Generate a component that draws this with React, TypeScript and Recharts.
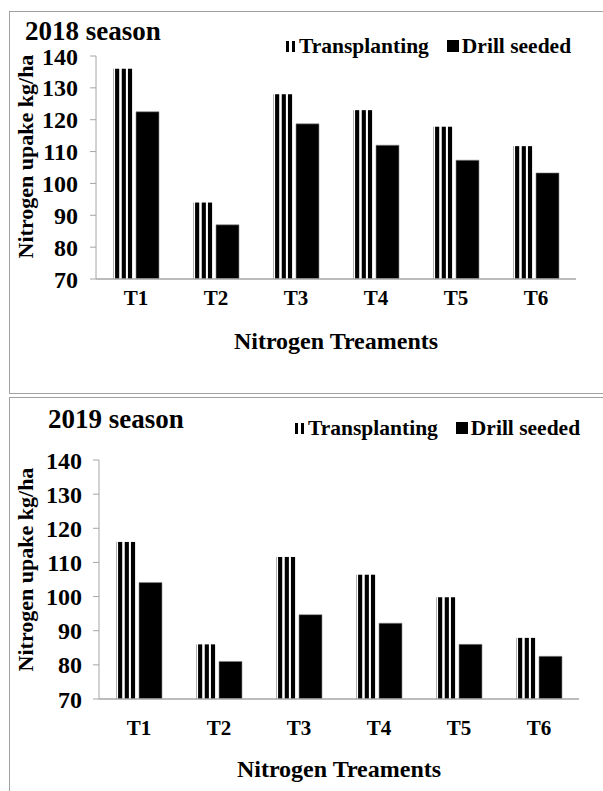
import React from "react"
import { Bar, BarChart, XAxis, YAxis, Label } from "recharts"

const treatments = ["T1", "T2", "T3", "T4", "T5", "T6"]
const yTicks = [70, 80, 90, 100, 110, 120, 130, 140]

const transplanting2018 = [136, 94, 128, 123, 117.8, 111.7]
const drillSeeded2018 = [122.5, 87, 118.7, 112, 107.3, 103.3]

const transplanting2019 = [116, 86, 111.6, 106.4, 99.8, 87.9]
const drillSeeded2019 = [104.1, 81, 94.7, 92.2, 86, 82.5]

const FONT = "'Liberation Serif', 'Times New Roman', serif"
const AXIS_GREY = "#a6a6a6"

const buildRows = (a: number[], b: number[]) =>
  treatments.map((t, i) => ({ name: t, transplanting: a[i], drill: b[i] }))

// vertical-stripe fill used by Excel's "wide vertical" pattern
const StripedBar = (props: any) => {
  const { x, y, width, height } = props
  if (!height || height <= 0) return null
  const starts = [0.09, 0.38, 0.65]
  return (
    <g>
      <line x1={x + 0.5} x2={x + 0.5} y1={y} y2={y + height} stroke="#9a9a9a" strokeWidth={0.8} />
      {starts.map((s, i) => (
        <rect key={i} x={x + s * width} y={y} width={width * 0.18} height={height} fill="#000" />
      ))}
    </g>
  )
}

const LegendBox = ({ left, top }: { left: number; top: number }) => (
  <div
    style={{
      position: "absolute",
      left,
      top,
      display: "flex",
      alignItems: "center",
      fontFamily: FONT,
      fontWeight: "bold",
      fontSize: 21.5,
      lineHeight: "24px",
      whiteSpace: "nowrap",
    }}
  >
    <span style={{ display: "inline-block", width: 3, height: 11, background: "#000", marginRight: 3 }} />
    <span style={{ display: "inline-block", width: 3, height: 11, background: "#000", marginRight: 4 }} />
    <span>Transplanting</span>
    <span style={{ display: "inline-block", width: 12, height: 12, background: "#000", marginLeft: 18, marginRight: 3 }} />
    <span>Drill seeded</span>
  </div>
)

type PanelProps = {
  top: number
  height: number
  title: string
  titleLeft: number
  titleTop: number
  legendLeft: number
  legendTop: number
  transplanting: number[]
  drill: number[]
  margin: { top: number; right: number; left: number; bottom: number }
  yWidth: number
  yTickMargin: number
  xHeight: number
  xTickMargin: number
  xTitleOffset: number
  yLabelShift: number
}

function Panel(p: PanelProps) {
  const data = buildRows(p.transplanting, p.drill)
  return (
    <div style={{ position: "absolute", left: 0, top: p.top, width: 603, height: p.height }}>
      <BarChart
        width={603}
        height={p.height}
        data={data}
        margin={p.margin}
        barGap={0}
        style={{ fontFamily: FONT }}
      >
        <XAxis
          dataKey="name"
          height={p.xHeight}
          tickLine={false}
          tickSize={0}
          tickMargin={p.xTickMargin}
          axisLine={{ stroke: AXIS_GREY, strokeWidth: 1.5 }}
          tick={{ fill: "#000", fontSize: 21, fontWeight: "bold", fontFamily: FONT }}
        >
          <Label
            value="Nitrogen Treaments"
            position="insideBottom"
            offset={p.xTitleOffset}
            style={{ fill: "#000", fontSize: 24, fontWeight: "bold", fontFamily: FONT }}
          />
        </XAxis>
        <YAxis
          width={p.yWidth}
          domain={[70, 140]}
          ticks={yTicks}
          interval={0}
          allowDataOverflow
          tickSize={6}
          tickMargin={p.yTickMargin}
          axisLine={{ stroke: AXIS_GREY }}
          tickLine={{ stroke: AXIS_GREY }}
          tick={{ fill: "#000", fontSize: 24, fontWeight: "bold", fontFamily: FONT }}
        >
          <Label
            content={({ viewBox }: any) => {
              const cx = viewBox.x + 25
              const cy = viewBox.y + viewBox.height / 2 + p.yLabelShift
              return (
                <text
                  x={cx}
                  y={cy}
                  transform={`rotate(-90, ${cx}, ${cy})`}
                  textAnchor="middle"
                  dominantBaseline="central"
                  fill="#000"
                  style={{ fontSize: 22, fontWeight: "bold", fontFamily: FONT }}
                >
                  Nitrogen upake kg/ha
                </text>
              )
            }}
          />
        </YAxis>
        <Bar
          dataKey="transplanting"
          name="Transplanting"
          barSize={23}
          shape={<StripedBar />}
          isAnimationActive={false}
        />
        <Bar
          dataKey="drill"
          name="Drill seeded"
          barSize={23}
          fill="#000"
          stroke="#8c8c8c"
          strokeWidth={0.6}
          isAnimationActive={false}
        />
      </BarChart>
      <div
        style={{
          position: "absolute",
          left: p.titleLeft,
          top: p.titleTop,
          fontFamily: FONT,
          fontWeight: "bold",
          fontSize: 27,
          lineHeight: "24px",
          whiteSpace: "nowrap",
        }}
      >
        {p.title}
      </div>
      <LegendBox left={p.legendLeft} top={p.legendTop} />
    </div>
  )
}

export default function App() {
  return (
    <div style={{ position: "absolute", left: 0, top: 0, width: 603, height: 791, background: "#fff", overflow: "hidden" }}>
      <div style={{ position: "absolute", left: 9, top: 11, width: 620, height: 381, border: "1px solid #a0a0a0" }} />
      <div style={{ position: "absolute", left: 9, top: 397, width: 620, height: 420, border: "1px solid #a0a0a0" }} />
      <Panel
        top={0}
        height={393}
        title="2018 season"
        titleLeft={25}
        titleTop={19}
        legendLeft={286}
        legendTop={34}
        transplanting={transplanting2018}
        drill={drillSeeded2018}
        margin={{ top: 56, right: 27, left: 0, bottom: 0 }}
        yWidth={96}
        yTickMargin={12}
        xHeight={114}
        xTickMargin={11}
        xTitleOffset={44}
        yLabelShift={-11}
      />
      <Panel
        top={397}
        height={394}
        title="2019 season"
        titleLeft={48}
        titleTop={10}
        legendLeft={295}
        legendTop={19}
        transplanting={transplanting2019}
        drill={drillSeeded2019}
        margin={{ top: 63, right: 24, left: 0, bottom: 0 }}
        yWidth={99}
        yTickMargin={11}
        xHeight={92}
        xTickMargin={21}
        xTitleOffset={14}
        yLabelShift={-10}
      />
    </div>
  )
}
